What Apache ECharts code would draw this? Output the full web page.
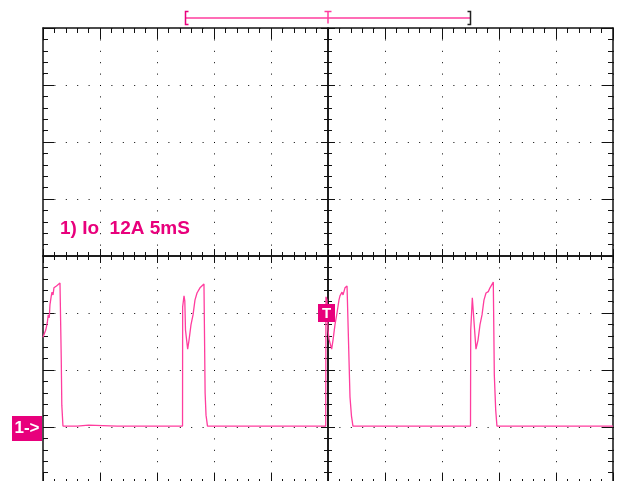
<!DOCTYPE html>
<html><head><meta charset="utf-8">
<script src="https://cdn.jsdelivr.net/npm/echarts@6/dist/echarts.min.js"></script>
<style>html,body{margin:0;padding:0;background:#fff}#c{width:624px;height:481px}</style>
</head><body><div id="c"></div>
<script>
// ---- data (time in ms, current in A) ----
const timeMs = [
  -25.00,-24.76,-24.62,-24.54,-24.45,-24.39,-24.28,-24.21,-24.12,-24.04,-23.92,-23.82,-23.65,-23.51,-23.42,-23.40,-23.35,-23.25,
  -22.00,-21.00,-20.90,-18.50,-18.40,-18.30,-15.00,-14.90,-14.80,-12.76,
  -12.75,-12.63,-12.56,-12.50,-12.31,-12.19,-12.02,-11.84,-11.67,-11.49,-11.32,-11.23,-11.06,-10.88,-10.80,-10.78,-10.70,-10.57,
  -8.00,-7.90,-7.80,-4.00,-3.90,-3.80,-0.20,
  -0.18,-0.09,0.00,0.09,0.32,0.44,0.61,0.79,0.96,1.05,1.23,1.32,1.49,1.67,1.84,1.90,1.93,2.06,2.19,
  5.00,5.10,5.20,9.00,9.10,9.20,12.50,
  12.52,12.63,12.66,12.77,12.86,12.98,13.16,13.33,13.51,13.68,13.86,13.95,14.06,14.21,14.50,14.55,14.59,14.71,14.82,
  18.00,18.10,18.20,21.00,25.00
];
const currentA = [
  18.9,20.4,22.0,23.6,23.0,25.7,27.5,28.4,27.8,29.3,29.0,29.7,29.9,30.3,30.1,14.5,4.6,0.2,
  0.2,0.4,0.2,0.2,0.4,0.2,0.2,0.4,0.2,0.2,
  25.3,27.6,26.5,20.4,16.4,18.3,21.5,23.6,26.7,28.2,28.4,29.3,29.0,30.1,30.1,7.2,2.5,0.2,
  0.2,0.4,0.2,0.2,0.4,0.2,0.2,
  27.4,26.8,20.4,18.5,16.4,18.3,21.5,24.0,26.7,27.6,28.4,27.8,29.3,29.7,30.1,30.1,6.3,2.3,0.2,
  0.2,0.4,0.2,0.2,0.4,0.2,0.2,
  20.4,20.4,27.2,27.2,20.4,16.4,18.3,21.5,23.6,26.7,28.2,27.8,28.5,29.3,30.5,30.5,10.9,3.6,0.2,
  0.2,0.4,0.2,0.2,0.2
];
// axis ranges (5 ms/div, 12 A/div)
const X_MIN = -25, X_MAX = 25, X_STEP = 5;
const Y_MIN = -12, Y_MAX = 84, Y_STEP = 12;
const windowMs = [-12.5, 12.5];   // record window bar at top
const triggerPoint = [0, 24];     // trigger marker (time, level)
const groundLevel = [X_MIN, 0];   // channel 1 ground marker
const titleText = '1) Io  12A 5mS';

// ---- styles ----
const PINK = '#ff3d9e';
const MAG = '#e8007c';
const INK = '#111';

const series = timeMs.map((t, i) => [t, currentA[i]]);

function xAx(pos, opts) {
  return Object.assign({
    type: 'value', gridIndex: 0, position: pos, min: X_MIN, max: X_MAX, interval: X_STEP,
    axisLine: {show: true, onZero: false, lineStyle: {color: INK, width: 1.5}},
    axisTick: {show: true, inside: true, length: 11, lineStyle: {color: INK, width: 1}},
    minorTick: {show: true, splitNumber: 5, length: 5, lineStyle: {color: INK, width: 1}},
    axisLabel: {show: false}, splitLine: {show: false}, minorSplitLine: {show: false}
  }, opts || {});
}
function yAx(pos, opts) {
  return Object.assign({
    type: 'value', gridIndex: 0, position: pos, min: Y_MIN, max: Y_MAX, interval: Y_STEP,
    axisLine: {show: true, onZero: false, lineStyle: {color: INK, width: 1.5}},
    axisTick: {show: true, inside: true, length: 11, lineStyle: {color: INK, width: 1}},
    minorTick: {show: true, splitNumber: 5, length: 5, lineStyle: {color: INK, width: 1}},
    axisLabel: {show: false}, splitLine: {show: false}, minorSplitLine: {show: false}
  }, opts || {});
}
const dots = {show: true, lineStyle: {color: '#000', width: 1, type: [1, 10.4]}};

const chart = echarts.init(document.getElementById('c'), null, {renderer: 'canvas'});
chart.setOption({
  animation: false,
  backgroundColor: '#fff',
  title: {
    text: titleText, left: 60, top: 219, padding: 0,
    textStyle: {color: MAG, fontSize: 19, fontWeight: 'bold', fontFamily: 'Liberation Sans'}
  },
  grid: [
    {left: 43, right: 11, top: 28, bottom: -3, containLabel: false, outerBoundsMode: 'none'},
    {left: 43, right: 11, top: 8, height: 20, containLabel: false, outerBoundsMode: 'none'}
  ],
  xAxis: [
    xAx('bottom', {splitLine: dots}),
    xAx('top'),
    xAx('bottom', {offset: -228, axisTick: {show: true, inside: true, length: 7, lineStyle: {color: INK}}, minorTick: {show: true, splitNumber: 5, length: 4, lineStyle: {color: INK}}}),
    xAx('bottom', {offset: -228, axisTick: {show: true, inside: false, length: 7, lineStyle: {color: INK}}, minorTick: {show: true, splitNumber: 5, length: 4, lineStyle: {color: INK}}}),
    {type: 'value', gridIndex: 1, min: X_MIN, max: X_MAX, show: false}
  ],
  yAxis: [
    yAx('left', {splitLine: dots}),
    yAx('right'),
    yAx('left', {offset: -285, axisTick: {show: true, inside: true, length: 7, lineStyle: {color: INK}}, minorTick: {show: true, splitNumber: 5, length: 4, lineStyle: {color: INK}}}),
    yAx('left', {offset: -285, axisTick: {show: true, inside: false, length: 7, lineStyle: {color: INK}}, minorTick: {show: true, splitNumber: 5, length: 4, lineStyle: {color: INK}}}),
    {type: 'value', gridIndex: 1, min: 0, max: 1, show: false}
  ],
  series: [
    {
      type: 'line', xAxisIndex: 0, yAxisIndex: 0, data: series, symbol: 'none', showSymbol: false,
      lineStyle: {color: PINK, width: 1.3}, z: 5
    },
    {
      type: 'custom', xAxisIndex: 0, yAxisIndex: 0, data: [groundLevel], z: 6, clip: false,
      renderItem: function (params, api) {
        const p = api.coord([api.value(0), api.value(1)]);
        return {type: 'group', children: [
          {type: 'rect', shape: {x: p[0] - 31, y: p[1] - 11, width: 30, height: 25}, style: {fill: MAG}},
          {type: 'text', x: p[0] - 16, y: p[1] + 1.5, style: {text: '1->', fill: '#fff', font: 'bold 17px "Liberation Sans"', align: 'center', verticalAlign: 'middle'}}
        ]};
      }
    },
    {
      type: 'custom', xAxisIndex: 0, yAxisIndex: 0, data: [triggerPoint], z: 7, clip: false,
      renderItem: function (params, api) {
        const p = api.coord([api.value(0), api.value(1)]);
        return {type: 'group', children: [
          {type: 'rect', shape: {x: p[0] - 10, y: p[1] - 9, width: 17, height: 18}, style: {fill: MAG}},
          {type: 'text', x: p[0] - 1.5, y: p[1] + 0.5, style: {text: 'T', fill: '#fff', font: 'bold 15px "Liberation Sans"', align: 'center', verticalAlign: 'middle'}}
        ]};
      }
    },
    {
      type: 'custom', xAxisIndex: 4, yAxisIndex: 4, data: [windowMs], z: 7, clip: false,
      renderItem: function (params, api) {
        const a = api.coord([api.value(0), 0.5]);
        const b = api.coord([api.value(1), 0.5]);
        const t = api.coord([0, 0.5]);
        const h = 6.5;
        return {type: 'group', children: [
          {type: 'line', shape: {x1: a[0], y1: a[1], x2: b[0], y2: b[1]}, style: {stroke: PINK, lineWidth: 1.5}},
          {type: 'polyline', shape: {points: [[a[0] + 3, a[1] - h], [a[0], a[1] - h], [a[0], a[1] + h], [a[0] + 3, a[1] + h]]}, style: {stroke: MAG, fill: null, lineWidth: 1.5}},
          {type: 'polyline', shape: {points: [[b[0] - 3, b[1] - h], [b[0], b[1] - h], [b[0], b[1] + h], [b[0] - 3, b[1] + h]]}, style: {stroke: '#222', fill: null, lineWidth: 1.5}},
          {type: 'line', shape: {x1: t[0], y1: t[1] - h, x2: t[0], y2: t[1] + h - 1}, style: {stroke: PINK, lineWidth: 1.5}},
          {type: 'line', shape: {x1: t[0] - 3.5, y1: t[1] - h, x2: t[0] + 3.5, y2: t[1] - h}, style: {stroke: PINK, lineWidth: 1.5}}
        ]};
      }
    }
  ]
});
</script>
</body></html>
